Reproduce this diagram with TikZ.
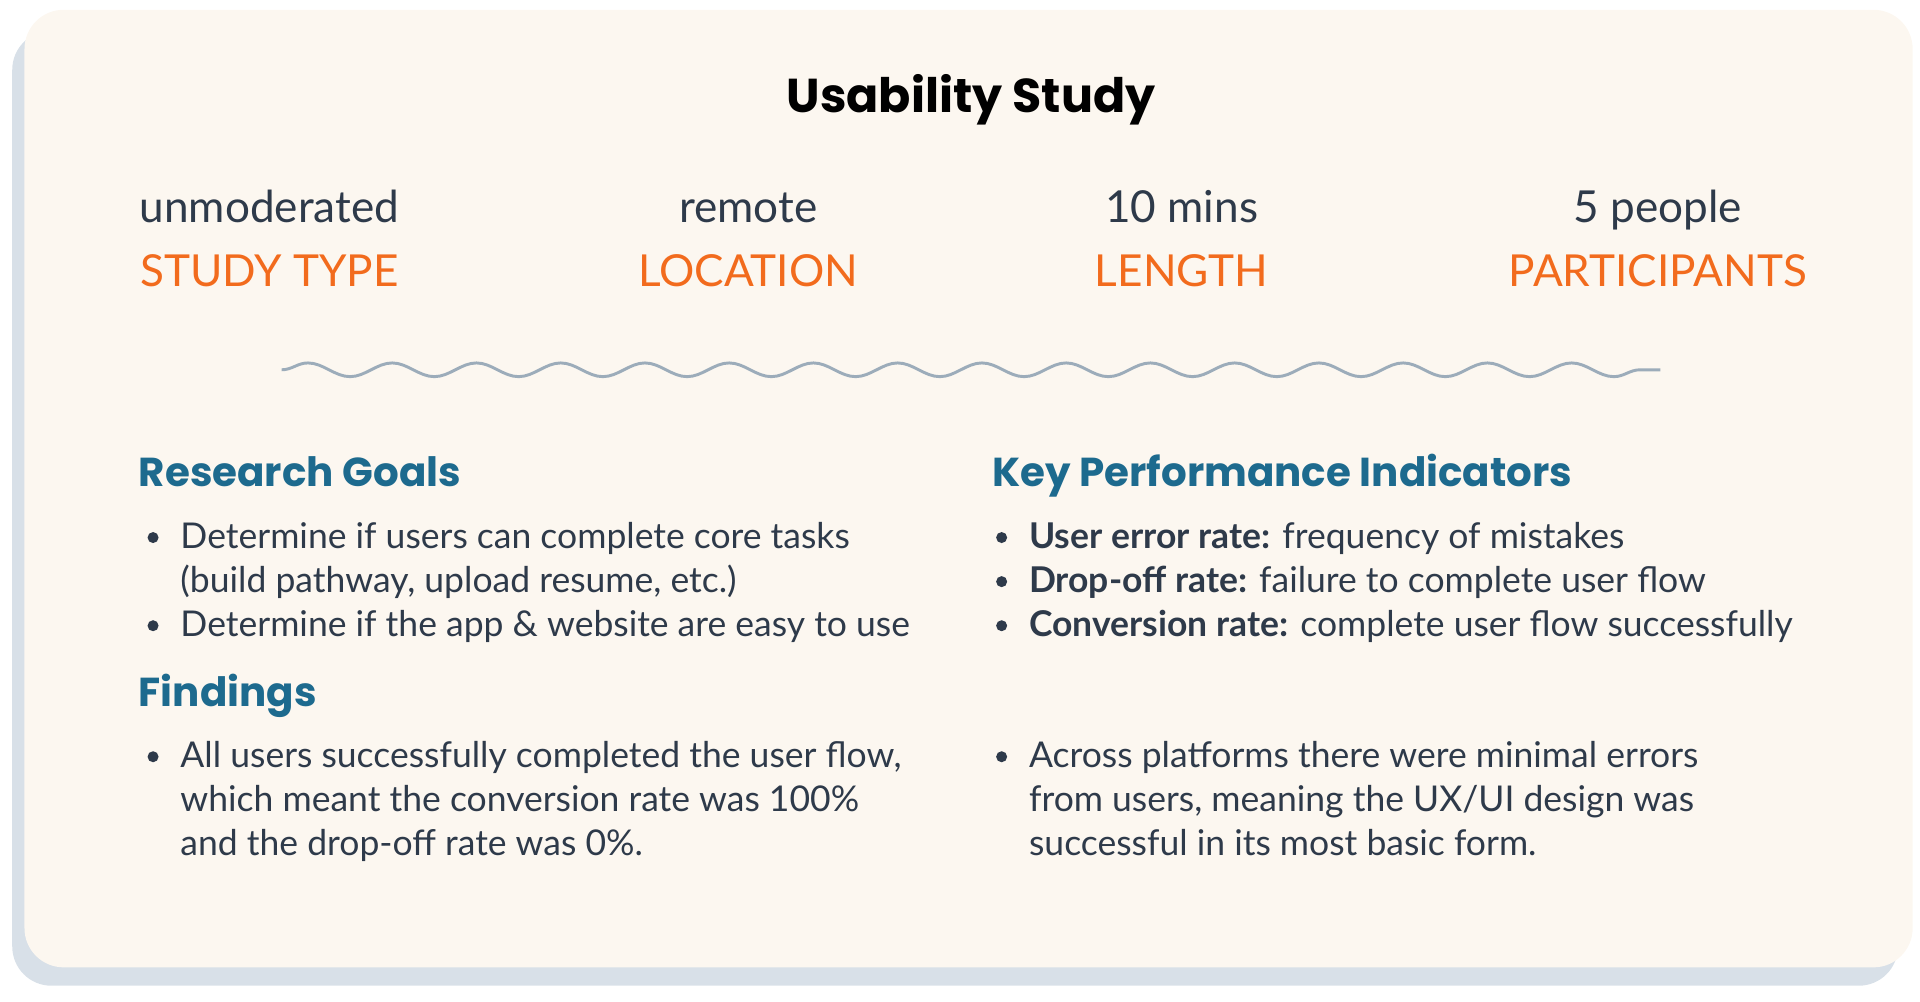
\documentclass[tikz,border=0pt]{standalone}
\usepackage{fontspec}
\setmainfont{Lato}
\newfontfamily\headfont{Poppins}
\usetikzlibrary{decorations.pathmorphing}
\definecolor{cardbg}{HTML}{FCF7F0}
\definecolor{shadowc}{HTML}{D8E0E8}
\definecolor{inkc}{HTML}{2E3A4A}
\definecolor{orangec}{HTML}{F26B1D}
\definecolor{tealc}{HTML}{1D6A8E}
\definecolor{wavec}{HTML}{9CACBA}
\tikzset{
  value/.style={text=inkc, font=\fontsize{18}{21}\selectfont, anchor=base},
  label/.style={text=orangec, font=\fontsize{18}{21}\selectfont, anchor=base},
  heading/.style={text=tealc, font=\headfont\bfseries\fontsize{16.5}{19}\selectfont, anchor=base west, inner sep=0pt},
  itemtext/.style={text=inkc, font=\fontsize{14.5}{18}\selectfont, anchor=north west, align=left, inner sep=0pt},
  dot/.style={circle, fill=inkc, inner sep=0pt, minimum size=4.5pt}
}
\begin{document}
\begin{tikzpicture}[x=0.5pt, y=-0.5pt]
    \useasboundingbox (0,0) rectangle (1568,818);
    % card and its shadow
    \fill[shadowc, rounded corners=16pt] (10,25) rectangle (1550,805);
    \fill[cardbg, rounded corners=16pt] (20,8) rectangle (1562,790);

    \node (title) [anchor=base, text=black, font=\headfont\bfseries\fontsize{19.4}{22}\selectfont] at (793,92) {Usability Study};

    \node (v1) [value] at (220,182) {unmoderated};
    \node (v2) [value] at (611,182) {remote};
    \node (v3) [value] at (965,182) {10 mins};
    \node (v4) [value] at (1354,182) {5 people};
    \node (l1) [label] at (220,234) {STUDY TYPE};
    \node (l2) [label] at (611,234) {LOCATION};
    \node (l3) [label] at (965,234) {LENGTH};
    \node (l4) [label] at (1354,234) {PARTICIPANTS};

    \coordinate (w1) at (230,302);
    \coordinate (w2) at (1356,302);
    \draw[wavec, line width=1.2pt, decorate, decoration={snake, amplitude=2.8pt, segment length=34.4pt}] (w1) -- (w2);

    \node (goals) [heading] at (113,397) {Research Goals};
    \node (kpi) [heading] at (810,397) {Key Performance Indicators};
    \node (find) [heading] at (113,577) {Findings};

    \node (g1) [itemtext] at (147,426) {Determine if users can complete core tasks\\(build pathway, upload resume, etc.)};
    \node (g2) [itemtext] at (147,498) {Determine if the app \& website are easy to use};
    \node (k1) [itemtext] at (840,426) {\textbf{User error rate:} frequency of mistakes};
    \node (k2) [itemtext] at (840,462) {\textbf{Drop-off rate:} failure to complete user flow};
    \node (k3) [itemtext] at (840,498) {\textbf{Conversion rate:} complete user flow successfully};
    \node (f1) [itemtext] at (147,605) {All users successfully completed the user flow,\\which meant the conversion rate was 100\%\\and the drop-off rate was 0\%.};
    \node (f2) [itemtext] at (840,605) {Across platforms there were minimal errors\\from users, meaning the UX/UI design was\\successful in its most basic form.};

    \foreach \x/\y in {125/439, 125/511, 818/439, 818/475, 818/511, 125/618, 818/618}
        \node[dot] at (\x,\y) {};
\end{tikzpicture}
\end{document}
